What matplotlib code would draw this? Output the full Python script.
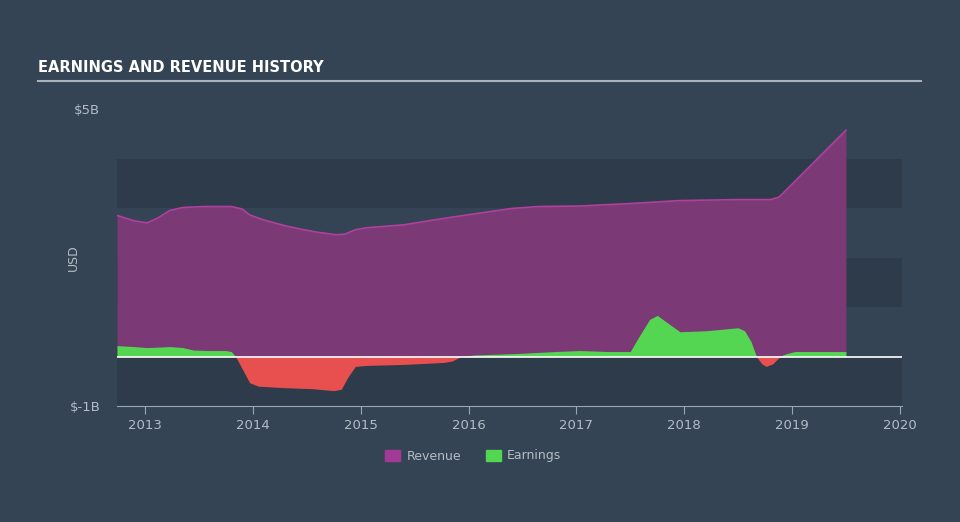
import matplotlib
matplotlib.use("Agg")
import matplotlib.pyplot as plt
from matplotlib import font_manager
from matplotlib.patches import Patch

# values (billions USD, decimal years)
rev_x = [2012.74, 2012.9, 2013.02, 2013.12, 2013.23, 2013.35, 2013.55, 2013.8, 2013.9, 2013.97,
         2014.1, 2014.3, 2014.45, 2014.6, 2014.77, 2014.85, 2014.95, 2015.05, 2015.4, 2015.77,
         2016.05, 2016.4, 2016.65, 2017.03, 2017.5, 2017.96, 2018.5, 2018.8, 2018.88, 2019.0,
         2019.5]
rev_y = [2.85, 2.74, 2.70, 2.80, 2.95, 3.01, 3.03, 3.03, 2.98, 2.86,
         2.76, 2.64, 2.57, 2.51, 2.46, 2.47, 2.56, 2.60, 2.66, 2.79,
         2.88, 2.99, 3.03, 3.04, 3.09, 3.15, 3.17, 3.17, 3.22, 3.48,
         4.57]

earn_x = [2012.74, 2012.9, 2013.02, 2013.23, 2013.35, 2013.45, 2013.6, 2013.75, 2013.8, 2013.84,
          2013.97, 2014.05, 2014.3, 2014.55, 2014.75, 2014.82, 2014.88, 2014.95, 2015.05, 2015.4,
          2015.77, 2015.85, 2015.93, 2016.05, 2016.45, 2016.8, 2017.03, 2017.3, 2017.5, 2017.58,
          2017.68, 2017.75, 2017.82, 2017.96, 2018.2, 2018.5, 2018.56, 2018.62, 2018.67, 2018.72,
          2018.76, 2018.82, 2018.88, 2018.95, 2019.03, 2019.5]
earn_y = [0.22, 0.20, 0.18, 0.20, 0.18, 0.13, 0.12, 0.12, 0.10, 0.0,
          -0.53, -0.60, -0.63, -0.65, -0.69, -0.66, -0.42, -0.20, -0.18, -0.16,
          -0.12, -0.09, 0.0, 0.03, 0.06, 0.10, 0.12, 0.10, 0.10, 0.40,
          0.75, 0.83, 0.72, 0.50, 0.52, 0.58, 0.52, 0.30, 0.0, -0.15,
          -0.20, -0.15, -0.02, 0.06, 0.10, 0.10]

years = [2013, 2014, 2015, 2016, 2017, 2018, 2019, 2020]

BG = "#344454"
BAND = "#2E3B4A"
TXT = "#b4bcc6"

# narrow face for the title if one is installed
installed = {f.name for f in font_manager.fontManager.ttflist}
narrow = [n for n in ("Liberation Sans Narrow", "DejaVu Sans Condensed") if n in installed]
title_size = 12 if narrow else 10.5

fig = plt.figure(figsize=(9.6, 5.22), dpi=100, facecolor=BG)
ax = fig.add_axes([117 / 960, 1 - 406 / 522, 785 / 960, 297 / 522])
ax.set_facecolor(BG)
ax.set_xlim(2012.74, 2020.02)
ax.set_ylim(-1, 5)

for lo in (-1, 1, 3):
    ax.axhspan(lo, lo + 1, color=BAND, lw=0, zorder=0)

ax.fill_between(rev_x, 0, rev_y, color="#7B3A76", lw=0, zorder=2)
ax.plot(rev_x, rev_y, color="#B0409E", lw=1.2, zorder=3)

pos = [max(v, 0) for v in earn_y]
neg = [min(v, 0) for v in earn_y]
ax.fill_between(earn_x, 0, pos, color="#55D653", lw=0, zorder=4)
ax.fill_between(earn_x, 0, neg, color="#E8504F", lw=0, zorder=4)
ax.axhline(0, color="white", lw=1.2, zorder=5)

for s in ("top", "right", "left"):
    ax.spines[s].set_visible(False)
ax.spines["bottom"].set_color("#9aa6b2")
ax.set_xticks(years)
ax.set_xticklabels([str(y) for y in years], color=TXT, fontsize=9.5)
ax.tick_params(axis="x", colors="#9aa6b2", length=6, labelcolor=TXT)
ax.set_yticks([5, -1])
ax.set_yticklabels(["$5B", "$-1B"], color=TXT, fontsize=9.5)
ax.tick_params(axis="y", length=0, pad=12)
ax.set_ylabel("USD", color=TXT, fontsize=9)
ax.yaxis.set_label_coords(-37 / 785, 0.5)

fig.text(38 / 960, 1 - 68 / 522, "EARNINGS AND REVENUE HISTORY", color="white",
         fontsize=title_size, fontweight="bold", family=narrow + ["DejaVu Sans"],
         va="center")
fig.add_artist(plt.Line2D([38 / 960, 921 / 960], [1 - 81 / 522] * 2, color="#a9b1bb", lw=1.5))

handles = [Patch(color="#A23A98", label="Revenue"), Patch(color="#55D653", label="Earnings")]
fig.legend(handles=handles, loc="center", bbox_to_anchor=(0.493, 1 - 456 / 522), ncol=2,
           frameon=False, labelcolor=TXT, fontsize=9, handlelength=1.2, handleheight=1.0,
           columnspacing=2.0, handletextpad=0.5)

fig.savefig("out.png", dpi=100, facecolor=BG)
